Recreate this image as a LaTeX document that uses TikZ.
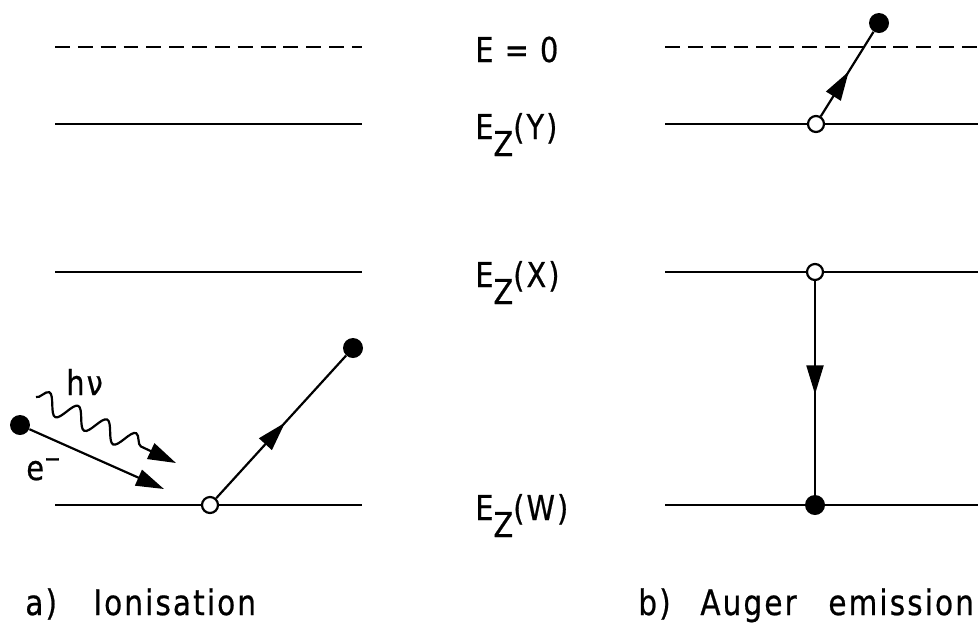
\documentclass[tikz,border=0pt]{standalone}
\usepackage{fontspec}
\setmainfont[FakeStretch=0.84,LetterSpace=6,FakeBold=0.6]{DejaVu Sans}
\usetikzlibrary{arrows.meta,decorations.markings,decorations.pathmorphing}

\begin{document}
\begin{tikzpicture}[
    x=0.02cm,
    y=-0.02cm,
    level/.style={
        draw,
        line width=1.25pt
    },
    vacuum/.style={
        draw,
        line width=1.25pt,
        dash pattern=on 8.5pt off 4.5pt
    },
    hole/.style={
        circle,
        draw,
        fill=white,
        line width=1.25pt,
        inner sep=0pt,
        minimum size=0.32cm
    },
    electron/.style={
        circle,
        fill=black,
        inner sep=0pt,
        minimum size=0.4cm
    },
    jump/.style={
        draw,
        line width=1.25pt,
        postaction={decorate},
        decoration={markings,
            mark=at position 0.53 with {\arrow{Triangle[length=0.58cm,width=0.34cm]}}}
    },
    beam/.style={
        draw,
        line width=1.25pt,
        -{Triangle[length=0.56cm,width=0.34cm]}
    },
    photon/.style={
        draw,
        line width=1.25pt,
        decorate,
        decoration={snake, amplitude=0.2cm, segment length=0.64cm, post length=0.6cm},
        -{Triangle[length=0.56cm,width=0.34cm]}
    },
    lvltext/.style={
        font=\fontsize{19.5}{22}\selectfont,
        anchor=base west,
        inner sep=0pt
    },
    caption/.style={
        font=\fontsize{20}{22}\selectfont,
        anchor=base west,
        inner sep=0pt
    }
]

    % Bounding box
    \useasboundingbox (0,0) rectangle (980,627);

    % Level ends
    \coordinate (a0l) at (55,47);   \coordinate (a0r) at (362,47);
    \coordinate (aYl) at (55,124);  \coordinate (aYr) at (362,124);
    \coordinate (aXl) at (55,272);  \coordinate (aXr) at (362,272);
    \coordinate (aWl) at (55,505);  \coordinate (aWr) at (362,505);
    \coordinate (b0l) at (665,47);  \coordinate (b0r) at (978,47);
    \coordinate (bYl) at (665,124); \coordinate (bYr) at (978,124);
    \coordinate (bXl) at (665,272); \coordinate (bXr) at (978,272);
    \coordinate (bWl) at (665,505); \coordinate (bWr) at (978,505);

    % Levels
    \path [vacuum] (a0l) -- (a0r);
    \path [level] (aYl) -- (aYr);
    \path [level] (aXl) -- (aXr);
    \path [level] (aWl) -- (aWr);
    \path [vacuum] (b0l) -- (b0r);
    \path [level] (bYl) -- (bYr);
    \path [level] (bXl) -- (bXr);
    \path [level] (bWl) -- (bWr);

    % Level labels
    \node [lvltext] (e0) at (475,62) {E = 0};
    \node [lvltext] (eY) at (475,139) {E\raisebox{-0.34cm}{Z}(Y)};
    \node [lvltext] (eX) at (475,287) {E\raisebox{-0.34cm}{Z}(X)};
    \node [lvltext] (eW) at (475,520) {E\raisebox{-0.34cm}{Z}(W)};

    % a) Ionisation
    \node [electron] (ein) at (20,425) {};
    \coordinate (eintip) at (164,489);
    \coordinate (hvstart) at (36,397);
    \coordinate (hvtip) at (176,463);
    \node [hole] (ahole) at (210,505) {};
    \node [electron] (aout) at (353,348) {};
    \path [beam] (ein) -- (eintip);
    \path [photon] (hvstart) -- (hvtip);
    \path [jump] (ahole) -- (aout);
    \node [lvltext] (hv) at (66,395) {hν};
    \node [lvltext] (em) at (26,480) {e\textsuperscript{−}};

    % b) Auger emission
    \node [hole] (bholeY) at (816,124) {};
    \node [electron] (bout) at (879,23) {};
    \node [hole] (bholeX) at (815,272) {};
    \node [electron] (bW) at (815,505) {};
    \path [jump] (bholeY) -- (bout);
    \path [jump] (bholeX) -- (bW);

    % Captions
    \node [caption] (capa) at (25,615) {a)};
    \node [caption] (capa2) at (93,615) {Ionisation};
    \node [caption] (capb) at (638,615) {b)};
    \node [caption] (capb2) at (700,615) {Auger};
    \node [caption] (capb3) at (828,615) {emission};

\end{tikzpicture}
\end{document}
